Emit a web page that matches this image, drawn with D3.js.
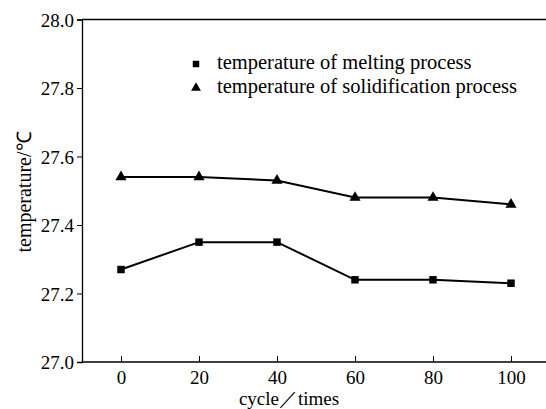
<!DOCTYPE html>
<html>
<head>
<meta charset="utf-8">
<script src="https://cdn.jsdelivr.net/npm/d3@7"></script>
<style>
  html, body { margin: 0; padding: 0; background: #fff; }
  svg { display: block; }
</style>
</head>
<body>
<svg id="chart" width="546" height="409"></svg>
<script>
// Cycle counts and phase-change temperatures (°C)
const cycles = [0, 20, 40, 60, 80, 100];
const meltingTemp = [27.27, 27.35, 27.35, 27.24, 27.24, 27.23];
const solidTemp = [27.54, 27.54, 27.53, 27.48, 27.48, 27.46];
const xTicks = [0, 20, 40, 60, 80, 100];
const yTicks = [27.0, 27.2, 27.4, 27.6, 27.8, 28.0];
const seriesNames = ["temperature of melting process", "temperature of solidification process"];

(function draw() {
  const FONT = '"Liberation Serif"';
  const FS = "19px";
  const svg = d3.select("#chart");
  const mLeft = 82, mRight = 546, mTop = 19.5, mBottom = 362;

  const x = d3.scaleLinear().domain([-10, 105]).range([mLeft, 530.5]);
  const y = d3.scaleLinear().domain([27.0, 28.0]).range([mBottom, mTop]);

  // Frame: top and bottom lines run to the edge, plus the left spine
  svg.append("line").attr("x1", mLeft).attr("x2", mRight).attr("y1", mTop).attr("y2", mTop)
    .attr("stroke", "#000").attr("stroke-width", 1.3);
  svg.append("line").attr("x1", mLeft).attr("x2", mRight).attr("y1", mBottom).attr("y2", mBottom)
    .attr("stroke", "#000").attr("stroke-width", 1.3);

  // Y axis, ticks pointing outward
  const yAxis = svg.append("g").attr("transform", `translate(${mLeft},0)`)
    .call(d3.axisLeft(y).tickValues(yTicks).tickFormat(d3.format(".1f")).tickSize(5).tickPadding(3));
  yAxis.attr("font-family", null).attr("font-size", null);
  yAxis.select(".domain").attr("stroke-width", 1.3);
  yAxis.selectAll("text").style("font-family", FONT).style("font-size", FS).attr("dy", "0.35em");

  // X axis, ticks pointing inward
  const xAxis = svg.append("g").attr("transform", `translate(0,${mBottom})`)
    .call(d3.axisBottom(x).tickValues(xTicks).tickSize(-6).tickPadding(9));
  xAxis.attr("font-family", null).attr("font-size", null);
  xAxis.select(".domain").remove();
  xAxis.selectAll("text").style("font-family", FONT).style("font-size", FS);

  // Axis titles
  svg.append("text").attr("x", 289).attr("y", 405).attr("text-anchor", "middle")
    .style("font-family", FONT).style("font-size", FS).text("cycle／times");
  svg.append("text").attr("transform", "translate(31,192) rotate(-90)").attr("text-anchor", "middle")
    .style("font-family", FONT).style("font-size", "20px").text("temperature/℃");

  const line = d3.line().x(d => x(d[0])).y(d => y(d[1]));
  const melting = cycles.map((c, i) => [c, meltingTemp[i]]);
  const solid = cycles.map((c, i) => [c, solidTemp[i]]);

  svg.append("path").datum(melting).attr("d", line).attr("fill", "none")
    .attr("stroke", "#000").attr("stroke-width", 2);
  svg.append("path").datum(solid).attr("d", line).attr("fill", "none")
    .attr("stroke", "#000").attr("stroke-width", 2);

  const sq = d3.symbol().type(d3.symbolSquare).size(56);
  const tri = d3.symbol().type(d3.symbolTriangle).size(54);

  svg.selectAll(".sq").data(melting).join("path").attr("class", "sq")
    .attr("d", sq).attr("transform", d => `translate(${x(d[0])},${y(d[1])})`).attr("fill", "#000");
  svg.selectAll(".tri").data(solid).join("path").attr("class", "tri")
    .attr("d", tri).attr("transform", d => `translate(${x(d[0])},${y(d[1])})`).attr("fill", "#000");

  // Legend
  const LFS = "20.5px";
  const legend = svg.append("g");
  legend.append("path").attr("d", d3.symbol().type(d3.symbolSquare).size(42))
    .attr("transform", "translate(196,64)").attr("fill", "#000");
  legend.append("text").attr("x", 217).attr("y", 69)
    .style("font-family", FONT).style("font-size", LFS).text(seriesNames[0]);
  legend.append("path").attr("d", d3.symbol().type(d3.symbolTriangle).size(42))
    .attr("transform", "translate(196,88)").attr("fill", "#000");
  legend.append("text").attr("x", 217).attr("y", 93)
    .style("font-family", FONT).style("font-size", LFS).text(seriesNames[1]);
})();
</script>
</body>
</html>
